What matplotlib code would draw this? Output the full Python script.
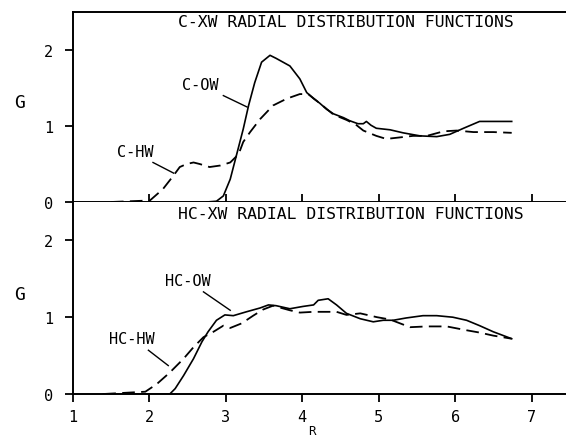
import matplotlib
matplotlib.use('Agg')
import matplotlib.pyplot as plt

# Values.
c_ow_r = [2.75, 2.88, 2.97, 3.06, 3.14, 3.23, 3.30, 3.38, 3.47, 3.58, 3.66, 3.75, 3.84, 3.97,
          4.06, 4.15, 4.23, 4.32, 4.41, 4.54, 4.62, 4.73, 4.80, 4.84, 4.90, 4.97, 5.15, 5.32,
          5.54, 5.76, 5.93, 6.11, 6.32, 6.54, 6.74]
c_ow_g = [0.0, 0.01, 0.08, 0.30, 0.61, 0.96, 1.27, 1.57, 1.84, 1.93, 1.89, 1.84, 1.79, 1.62,
          1.44, 1.36, 1.30, 1.22, 1.16, 1.11, 1.07, 1.03, 1.03, 1.06, 1.01, 0.97, 0.95, 0.91,
          0.87, 0.86, 0.89, 0.97, 1.06, 1.06, 1.06]

c_hw_r = [1.5, 2.01, 2.18, 2.32, 2.40, 2.49, 2.58, 2.66, 2.79, 2.93, 3.06, 3.17, 3.23, 3.32,
          3.45, 3.62, 3.80, 3.97, 4.08, 4.23, 4.41, 4.58, 4.70, 4.80, 4.97, 5.10, 5.28, 5.45,
          5.63, 5.85, 6.02, 6.24, 6.50, 6.74]
c_hw_g = [0.0, 0.02, 0.17, 0.35, 0.46, 0.50, 0.52, 0.50, 0.46, 0.48, 0.52, 0.63, 0.79, 0.92,
          1.09, 1.27, 1.36, 1.42, 1.42, 1.30, 1.15, 1.08, 1.02, 0.94, 0.87, 0.83, 0.85, 0.87,
          0.87, 0.93, 0.94, 0.92, 0.92, 0.91]

hc_ow_r = [1.4, 2.27, 2.34, 2.45, 2.58, 2.69, 2.77, 2.88, 2.99, 3.10, 3.27, 3.45, 3.56, 3.66,
           3.84, 4.01, 4.15, 4.21, 4.34, 4.45, 4.58, 4.76, 4.93, 5.06, 5.19, 5.36, 5.58, 5.76,
           5.97, 6.15, 6.32, 6.50, 6.74]
hc_ow_g = [0.0, 0.0, 0.07, 0.24, 0.46, 0.68, 0.81, 0.96, 1.03, 1.02, 1.07, 1.12, 1.16, 1.15,
           1.11, 1.14, 1.16, 1.22, 1.24, 1.16, 1.05, 0.98, 0.94, 0.96, 0.96, 0.99, 1.02, 1.02,
           1.00, 0.96, 0.89, 0.81, 0.72]

hc_hw_r = [1.4, 1.95, 2.10, 2.27, 2.45, 2.58, 2.71, 2.84, 2.97, 3.06, 3.21, 3.36, 3.49, 3.62,
           3.84, 3.97, 4.15, 4.45, 4.58, 4.76, 4.98, 5.15, 5.28, 5.41, 5.63, 5.89, 6.15, 6.32,
           6.50, 6.74]
hc_hw_g = [0.0, 0.03, 0.13, 0.28, 0.46, 0.61, 0.74, 0.81, 0.89, 0.86, 0.92, 1.02, 1.10, 1.15,
           1.09, 1.06, 1.07, 1.07, 1.03, 1.05, 1.00, 0.97, 0.92, 0.87, 0.88, 0.88, 0.83, 0.80,
           0.76, 0.72]

x_ticks = [1, 2, 3, 4, 5, 6, 7]
y_ticks = [0, 1, 2]

plt.rcParams['font.family'] = ['DejaVu Sans Mono']
FS = 11
DASH = (0, (7, 3.5))

fig = plt.figure(figsize=(5.66, 4.39), dpi=100)
ax1 = fig.add_axes([0.1284, 0.5376, 0.8716, 0.4328])
ax2 = fig.add_axes([0.1284, 0.1002, 0.8716, 0.4374])

for ax in (ax1, ax2):
    ax.set_xlim(1, 7.45)
    ax.set_ylim(0, 2.5)
    ax.spines['right'].set_visible(False)
    for s in ('left', 'bottom', 'top'):
        ax.spines[s].set_linewidth(1.4)
    ax.set_yticks(y_ticks)
    ax.tick_params(axis='y', direction='out', length=6, width=1.3, labelsize=FS, pad=8)

ax2.spines['top'].set_visible(False)

# top panel
ax1.plot(c_ow_r, c_ow_g, color='black', lw=1.2)
ax1.plot(c_hw_r, c_hw_g, color='black', lw=1.3, linestyle=DASH)
ax1.set_xticks(x_ticks[1:])
ax1.tick_params(axis='x', direction='in', length=6, width=1.3, labelbottom=False)
ax1.text(4.57, 2.37, 'C-XW RADIAL DISTRIBUTION FUNCTIONS', ha='center', va='center', fontsize=11.8)
ax1.text(2.67, 1.55, 'C-OW', ha='center', va='center', fontsize=FS)
ax1.plot([2.97, 3.28], [1.40, 1.25], color='black', lw=1.0)
ax1.text(1.82, 0.67, 'C-HW', ha='center', va='center', fontsize=FS)
ax1.plot([2.05, 2.32], [0.52, 0.38], color='black', lw=1.0)

# bottom panel
ax2.plot(hc_ow_r, hc_ow_g, color='black', lw=1.2)
ax2.plot(hc_hw_r, hc_hw_g, color='black', lw=1.3, linestyle=DASH)
ax2.set_xticks(x_ticks)
ax2.tick_params(axis='x', direction='out', length=6, width=1.3, labelsize=FS, pad=5)
ax2.text(4.63, 2.35, 'HC-XW RADIAL DISTRIBUTION FUNCTIONS', ha='center', va='center', fontsize=11.8)
ax2.text(2.51, 1.48, 'HC-OW', ha='center', va='center', fontsize=FS)
ax2.plot([2.71, 3.06], [1.33, 1.09], color='black', lw=1.0)
ax2.text(1.77, 0.72, 'HC-HW', ha='center', va='center', fontsize=FS)
ax2.plot([1.99, 2.25], [0.57, 0.37], color='black', lw=1.0)

fig.text(312 / 566, 1 - 432 / 439, 'R', ha='center', va='center', fontsize=9)
fig.text(20 / 566, 1 - 103 / 439, 'G', ha='center', va='center', fontsize=FS + 2)
fig.text(20 / 566, 1 - 295 / 439, 'G', ha='center', va='center', fontsize=FS + 2)

fig.savefig('out.png', dpi=100)
